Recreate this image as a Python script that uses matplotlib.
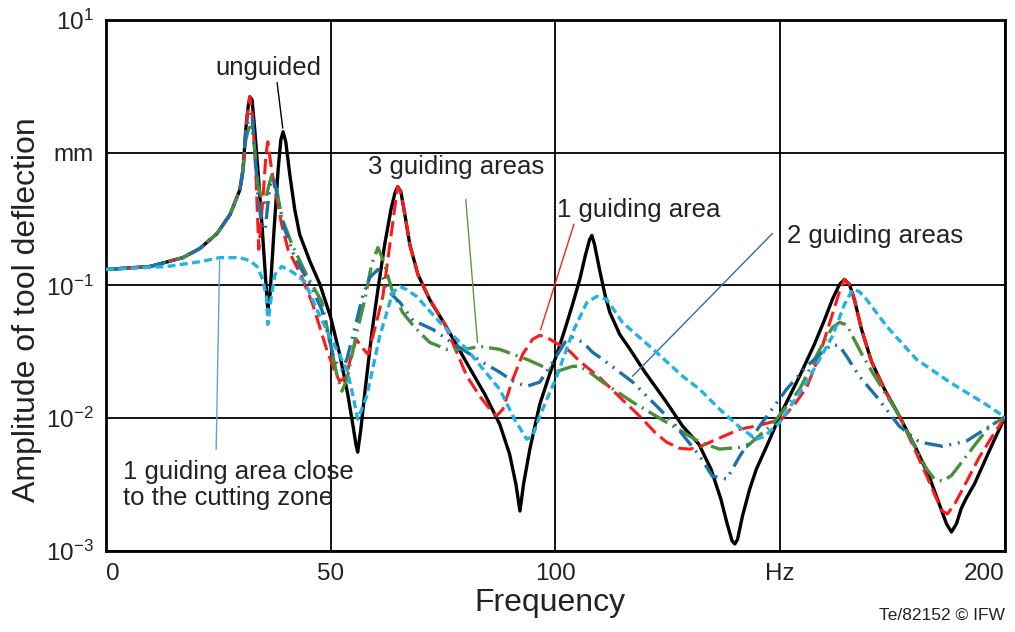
import matplotlib
matplotlib.use("Agg")
import matplotlib.pyplot as plt
from matplotlib.ticker import NullLocator

plt.rcParams['font.family'] = ['Liberation Sans', 'DejaVu Sans']
plt.rcParams['mathtext.default'] = 'regular'

# frequency in Hz, amplitude in mm
freq_unguided = [0, 9.8, 17.1, 20.9, 24.7, 27.6, 29.8, 30.5, 31.1, 31.6, 32.0, 32.5, 33.1, 33.8, 34.7,
                 35.6, 36.0, 36.5, 37.4, 38.3, 38.9, 39.4, 40.0, 40.9, 42.0, 43.1, 45.4, 47.6, 50.0,
                 52.0, 53.8, 54.9, 55.6, 56.0, 56.7, 57.8, 59.1, 60.5, 62.0, 63.4, 64.3, 64.9, 65.6,
                 66.5, 67.6, 69.4, 72.0, 75.4, 79.8, 84.3, 87.6, 89.8, 91.2, 92.1, 92.9, 94.3, 96.5,
                 98.7, 100.3, 102.1, 103.8, 105.4, 106.7, 107.6, 108.1, 108.7, 109.8, 111.0, 112.1,
                 114.3, 116.6, 119.8, 124.7, 128.3, 131.9, 134.6, 136.8, 138.2, 139.3, 139.9, 140.5,
                 141.6, 143.2, 144.7, 147.2, 149.9, 154.3, 157.6, 159.9, 161.6, 163.2, 164.3, 165.4,
                 166.5, 168.1, 170.3, 173.2, 176.5, 180.3, 183.2, 185.4, 187.0, 188.1, 189.2, 190.3,
                 191.4, 193.2, 195.0, 197.4, 200]
amp_unguided = [0.132, 0.139, 0.162, 0.190, 0.246, 0.342, 0.527, 0.745, 1.49, 2.18, 2.64, 2.50, 1.49,
                0.745, 0.288, 0.102, 0.066, 0.0856, 0.264, 0.745, 1.25, 1.44, 1.21, 0.683, 0.373,
                0.242, 0.151, 0.102, 0.0574, 0.0303, 0.0151, 0.00902, 0.00638, 0.00555, 0.00826,
                0.0180, 0.0428, 0.0933, 0.203, 0.373, 0.500, 0.555, 0.509, 0.342, 0.203, 0.121,
                0.0785, 0.0509, 0.0278, 0.0151, 0.00902, 0.00536, 0.00319, 0.0020, 0.00319, 0.00585,
                0.0127, 0.0214, 0.0303, 0.0467, 0.0720, 0.111, 0.171, 0.222, 0.238, 0.203, 0.132,
                0.0856, 0.0626, 0.0428, 0.0330, 0.0225, 0.0132, 0.00871, 0.00638, 0.00414, 0.00246,
                0.00160, 0.00119, 0.00113, 0.00122, 0.00183, 0.00292, 0.00414, 0.00638, 0.0104,
                0.0207, 0.0360, 0.0555, 0.0785, 0.102, 0.111, 0.102, 0.0785, 0.0467, 0.0268, 0.0165,
                0.0104, 0.00585, 0.00360, 0.00225, 0.00160, 0.00139, 0.00160, 0.00210, 0.00250,
                0.00319, 0.00436, 0.00661, 0.0102]

freq_one = [0, 9.8, 17.1, 20.9, 24.7, 27.6, 29.8, 30.5, 31.1, 31.6, 32.0, 32.7, 33.4, 34.0, 34.9, 35.6,
            36.0, 36.7, 37.6, 39.1, 40.5, 43.6, 46.0, 49.1, 50.9, 52.0, 53.4, 54.6, 55.7, 57.0, 58.3,
            60.0, 61.6, 63.6, 64.5, 64.9, 65.6, 66.5, 67.6, 69.4, 72.0, 75.4, 80.3, 83.2, 85.4, 86.9,
            88.3, 90.5, 92.7, 94.9, 96.5, 98.1, 100.3, 103.2, 105.4, 109.8, 114.3, 118.7, 122.1,
            124.7, 127.6, 129.9, 132.1, 135.9, 141.0, 145.4, 150.3, 153.2, 155.9, 158.8, 161.6,
            163.2, 164.3, 165.4, 166.5, 168.1, 170.3, 173.2, 176.5, 179.9, 182.6, 184.8, 186.1,
            187.2, 188.8, 191.4, 194.3, 197.2, 200]
amp_one = [0.132, 0.139, 0.162, 0.190, 0.246, 0.342, 0.527, 0.745, 1.49, 2.18, 2.64, 1.77, 0.627, 0.187,
           0.443, 0.966, 1.21, 0.813, 0.527, 0.288, 0.187, 0.115, 0.0720, 0.0330, 0.0225, 0.0190,
           0.0203, 0.030, 0.0393, 0.034, 0.0303, 0.050, 0.0827, 0.264, 0.443, 0.555, 0.509, 0.342,
           0.203, 0.121, 0.0785, 0.0509, 0.0207, 0.0146, 0.0117, 0.0104, 0.0117, 0.0196, 0.0303,
           0.0393, 0.0421, 0.0405, 0.0366, 0.0319, 0.0268, 0.0203, 0.0144, 0.0104, 0.00785,
           0.00661, 0.00594, 0.00585, 0.0061, 0.00695, 0.00826, 0.00885, 0.00982, 0.0127, 0.0171,
           0.0303, 0.0605, 0.0902, 0.111, 0.102, 0.0785, 0.0467, 0.0268, 0.0165, 0.0104, 0.00585,
           0.00366, 0.00246, 0.0020, 0.0019, 0.00225, 0.00330, 0.00509, 0.00733, 0.0102]

freq_three = [0, 9.8, 17.1, 20.9, 24.7, 27.6, 29.8, 30.5, 31.1, 31.8, 32.5, 33.1, 33.8, 34.7, 35.4,
              36.0, 36.9, 37.8, 39.1, 41.4, 44.9, 48.0, 50.5, 51.6, 52.5, 53.6, 55.8, 57.6, 59.1, 60.5,
              61.8, 63.6, 66.0, 68.7, 72.0, 75.8, 79.8, 83.2, 87.6, 93.6, 97.6, 100.3, 103.8, 105.4,
              107.6, 110.5, 117.2, 124.7, 132.1, 136.5, 142.5, 148.3, 154.3, 158.8, 161.6, 163.2,
              164.8, 166.1, 168.3, 170.5, 176.5, 179.9, 182.6, 184.3, 186.1, 188.1, 191.4, 194.3,
              196.6, 200]
amp_three = [0.132, 0.139, 0.162, 0.190, 0.246, 0.342, 0.527, 0.745, 1.25, 1.54, 1.57, 1.05, 0.574,
             0.443, 0.421, 0.527, 0.683, 0.574, 0.325, 0.203, 0.115, 0.0758, 0.0292, 0.0196, 0.0160,
             0.0196, 0.0443, 0.0785, 0.144, 0.193, 0.151, 0.0933, 0.0626, 0.0483, 0.0373, 0.0330,
             0.0330, 0.0348, 0.0330, 0.0278, 0.0242, 0.0225, 0.0246, 0.0246, 0.0222, 0.0187,
             0.0132, 0.00933, 0.00661, 0.00585, 0.0061, 0.00902, 0.0165, 0.0330, 0.0483, 0.0527,
             0.0505, 0.0414, 0.0298, 0.0222, 0.0104, 0.00615, 0.00414, 0.00348, 0.00336, 0.0037,
             0.00518, 0.00695, 0.00871, 0.0102]

freq_two = [0, 9.8, 17.1, 20.9, 24.7, 27.6, 29.8, 30.5, 31.1, 32.0, 32.5, 33.1, 33.8, 34.7, 35.4, 36.0,
            36.7, 37.4, 38.3, 39.8, 42.0, 45.4, 48.0, 50.5, 51.6, 52.5, 53.6, 54.9, 57.1, 58.7, 60.5,
            61.8, 63.1, 65.4, 68.3, 72.7, 77.6, 83.8, 87.6, 90.9, 93.6, 96.5, 99.8, 102.1, 103.8,
            106.1, 108.3, 110.5, 117.2, 126.1, 132.1, 134.9, 138.1, 141.0, 145.4, 151.4, 155.9,
            158.8, 161.6, 163.2, 164.8, 167.6, 171.4, 176.5, 181.0, 186.1, 191.4, 196.6, 200]
amp_two = [0.132, 0.139, 0.162, 0.190, 0.246, 0.342, 0.527, 0.745, 1.40, 2.03, 1.93, 1.05, 0.483, 0.273,
           0.26, 0.406, 0.627, 0.627, 0.443, 0.264, 0.162, 0.102, 0.066, 0.0303, 0.0246, 0.0233,
           0.0278, 0.0414, 0.0827, 0.115, 0.132, 0.111, 0.0886, 0.0745, 0.0546, 0.0467, 0.0360,
           0.0264, 0.0222, 0.0187, 0.0174, 0.0187, 0.0278, 0.0373, 0.0406, 0.0373, 0.0313, 0.0278,
           0.0187, 0.00933, 0.00518, 0.00366, 0.00348, 0.00518, 0.00871, 0.0165, 0.0246, 0.0303,
           0.0360, 0.035, 0.0292, 0.0207, 0.0146, 0.00871, 0.00661, 0.00615, 0.00671, 0.00871,
           0.0102]

freq_close = [0, 13.6, 20.9, 25.3, 29.8, 32.0, 33.6, 34.9, 35.8, 36.0, 36.7, 37.6, 39.1, 41.4, 44.2,
              47.6, 50.5, 53.6, 54.9, 56.0, 56.9, 58.0, 60.9, 63.8, 65.4, 66.9, 69.1, 74.3, 80.3,
              87.6, 90.9, 93.6, 94.9, 96.5, 100.3, 103.8, 107.0, 109.2, 111.4, 114.9, 122.5, 128.3,
              132.1, 136.5, 141.0, 144.7, 146.5, 149.9, 155.9, 161.6, 164.3, 166.1, 167.6, 169.2,
              173.7, 180.3, 187.7, 195.0, 200]
amp_close = [0.132, 0.139, 0.151, 0.162, 0.162, 0.154, 0.139, 0.111, 0.0785, 0.0509, 0.0785, 0.121,
             0.139, 0.127, 0.107, 0.0585, 0.0373, 0.0233, 0.0151, 0.00982, 0.0117, 0.0146, 0.0414,
             0.0886, 0.0982, 0.093, 0.0827, 0.0527, 0.0330, 0.0165, 0.00982, 0.00695, 0.0073,
             0.0104, 0.0207, 0.0443, 0.0745, 0.0827, 0.0785, 0.0527, 0.0313, 0.0207, 0.0165, 0.0117,
             0.00855, 0.00695, 0.0073, 0.00933, 0.0187, 0.0414, 0.0720, 0.0933, 0.09, 0.0785,
             0.0492, 0.0278, 0.0187, 0.0132, 0.0102]

x_ticks = [0, 50, 100, 150, 200]
x_tick_labels = ['0', '50', '100', 'Hz', '200']
y_ticks = [1e-3, 1e-2, 1e-1, 1, 1e1]
y_tick_labels = ['$10^{-3}$', '$10^{-2}$', '$10^{-1}$', 'mm', '$10^{1}$']

txt = '#222222'
fig = plt.figure(figsize=(10.15, 6.32), dpi=100)
ax = fig.add_axes([0.1044, 0.1282, 0.8857, 0.8402])

ax.plot(freq_unguided, amp_unguided, color='black', lw=2.4, zorder=3)
ax.plot(freq_one, amp_one, color='#ff1a1a', lw=2.2, ls=(0, (5, 2)), zorder=4)
ax.plot(freq_three, amp_three, color='#4a8f3c', lw=2.4, ls=(0, (6.5, 1.8, 0.6, 1.8)), zorder=5)
ax.plot(freq_two, amp_two, color='#1b72a6', lw=2.4, ls=(0, (5.5, 2, 0.6, 2, 0.6, 2)), zorder=6)
ax.plot(freq_close, amp_close, color='#22b2e3', lw=2.4, ls=(0, (2.4, 1.3)), zorder=7)

ax.set_yscale('log')
ax.set_xlim(0, 200)
ax.set_ylim(1e-3, 1e1)
ax.set_xticks(x_ticks, x_tick_labels)
ax.set_yticks(y_ticks, y_tick_labels)
ax.yaxis.set_minor_locator(NullLocator())
ax.tick_params(length=0, labelsize=17.5, colors=txt)
ax.tick_params(axis='x', pad=9)
ax.tick_params(axis='y', pad=9)
xlabels = ax.get_xticklabels()
xlabels[0].set_ha('left')
xlabels[-1].set_ha('right')
ax.grid(True, color='black', lw=1.3)
ax.set_axisbelow(True)
for s in ax.spines.values():
    s.set_linewidth(2)
    s.set_color('black')

# leader lines and labels
line_kw = dict(lw=1.0, zorder=8)
ax.annotate('', xy=(39.4, 1.46), xytext=(38.0, 3.54), arrowprops=dict(arrowstyle='-', color='black', **line_kw))
ax.text(36.2, 4.36, 'unguided', ha='center', va='center', fontsize=18.5, color=txt)

ax.annotate('', xy=(82.7, 0.0354), xytext=(80.0, 0.467), arrowprops=dict(arrowstyle='-', color='#5a9a40', **line_kw))
ax.text(77.8, 0.785, '3 guiding areas', ha='center', va='center', fontsize=18.5, color=txt)

ax.annotate('', xy=(96.5, 0.0443), xytext=(104.3, 0.303), arrowprops=dict(arrowstyle='-', color='#ff2020', **line_kw))
ax.text(118.5, 0.373, '1 guiding area', ha='center', va='center', fontsize=18.5, color=txt)

ax.annotate('', xy=(116.7, 0.020), xytext=(148.7, 0.255), arrowprops=dict(arrowstyle='-', color='#3a6a9a', **line_kw))
ax.text(171.0, 0.234, '2 guiding areas', ha='center', va='center', fontsize=18.5, color=txt)

ax.annotate('', xy=(24.5, 0.00555), xytext=(25.3, 0.162), arrowprops=dict(arrowstyle='-', color='#5ba3e0', **line_kw))
ax.text(3.8, 0.00313, '1 guiding area close\nto the cutting zone', ha='left', va='center',
        fontsize=18.5, color=txt, linespacing=1.1)

fig.text(550 / 1015, 1 - 603 / 632, 'Frequency', ha='center', va='center', fontsize=23, color=txt)
fig.text(27 / 1015, 1 - 310 / 632, 'Amplitude of tool deflection', rotation=90,
         ha='center', va='center', fontsize=23, color=txt)
fig.text(1005 / 1015, 1 - 615 / 632, 'Te/82152 \u00a9 IFW', ha='right', va='center', fontsize=12.5, color=txt)

fig.savefig('out.png', dpi=100)
